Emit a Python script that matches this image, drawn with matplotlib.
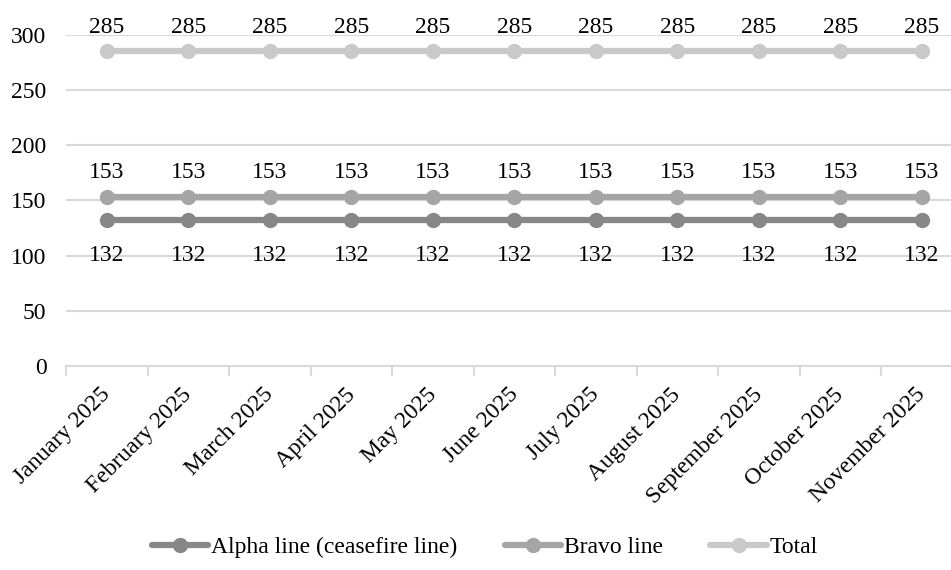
import matplotlib.pyplot as plt
import matplotlib.transforms as mtransforms

plt.rcParams['font.family'] = ['Liberation Serif', 'DejaVu Serif']

months = ['January 2025', 'February 2025', 'March 2025', 'April 2025', 'May 2025',
          'June 2025', 'July 2025', 'August 2025', 'September 2025', 'October 2025',
          'November 2025']
alpha_line = [132] * 11
bravo_line = [153] * 11
total = [285] * 11

series = [
    ('Alpha line (ceasefire line)', alpha_line, '#878787', -1),
    ('Bravo line', bravo_line, '#a5a5a5', 1),
    ('Total', total, '#c9c9c9', 1),
]

fig = plt.figure(figsize=(9.51, 5.70), dpi=100)
ax = fig.add_axes([0.0694, 0.358, 0.9427, 0.5807])

x = list(range(len(months)))
for name, vals, col, side in series:
    ax.plot(x, vals, color=col, lw=4.5, marker='o', ms=10, label=name,
            solid_capstyle='round', zorder=3)
    # value labels: above for Bravo/Total, below for Alpha
    for xi, v in zip(x, vals):
        off = 13.5 if side > 0 else -29
        ax.annotate(str(v), (xi, v), xytext=(0, off), textcoords='offset points',
                    ha='center', va='baseline', fontsize=17)

ax.set_xlim(-0.5, 10.5)
ax.set_ylim(0, 300)
ax.set_yticks(range(0, 301, 50))
ax.yaxis.grid(True, color='#d9d9d9', lw=1.5)
ax.set_axisbelow(True)
for s in ['top', 'right', 'left']:
    ax.spines[s].set_visible(False)
ax.spines['bottom'].set_color('#d9d9d9')
ax.spines['bottom'].set_linewidth(1.5)

ax.set_xticks([i - 0.5 for i in range(12)])
ax.set_xticklabels([])
ax.set_xticks(x, minor=True)
ax.set_xticklabels(months, minor=True, rotation=45, ha='right', rotation_mode='anchor',
                   fontsize=17)
ax.tick_params(axis='x', which='major', length=7, color='#d9d9d9', width=1.5)
ax.tick_params(axis='x', which='minor', length=0, pad=13)
ax.tick_params(axis='y', length=0, labelsize=17, pad=14)

shift = mtransforms.ScaledTranslation(-5 / 72, 0, fig.dpi_scale_trans)
for lbl in ax.get_xticklabels(minor=True):
    lbl.set_transform(lbl.get_transform() + shift)

fig.legend(loc='center', bbox_to_anchor=(0.51, 0.04), ncol=3, frameon=False,
           fontsize=17, handlelength=2.4, handletextpad=0.12, columnspacing=2.0)

fig.savefig('out.png', dpi=100)
